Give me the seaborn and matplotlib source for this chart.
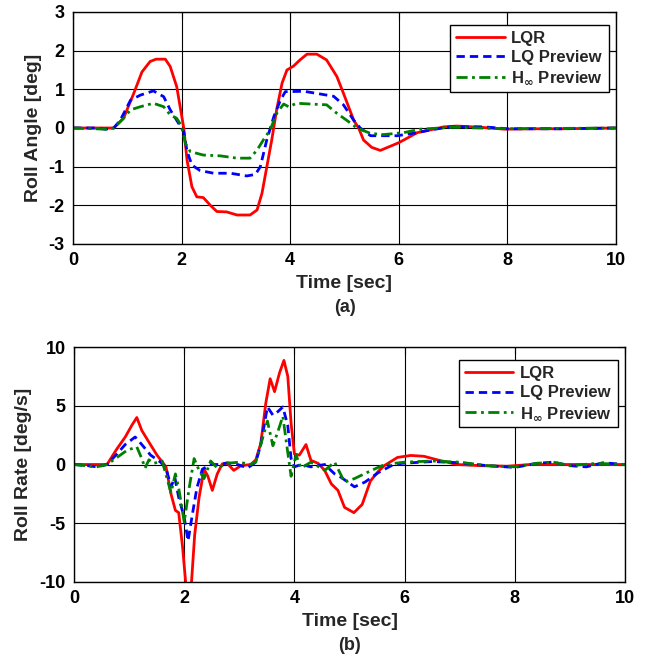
import numpy as np
import pandas as pd
import matplotlib
matplotlib.use('Agg')
import matplotlib.pyplot as plt
import seaborn as sns


# Roll angle [deg] (a)
t_angle_lqr = [0, 0.5, 0.75, 0.93, 1.12, 1.27, 1.42, 1.53, 1.7, 1.79,
               1.91, 2.04, 2.1, 2.19, 2.28, 2.4, 2.53, 2.65, 2.83, 3.02,
               3.26, 3.39, 3.48, 3.57, 3.66, 3.75, 3.85, 3.94, 4.06, 4.18,
               4.31, 4.49, 4.67, 4.86, 4.98, 5.17, 5.26, 5.35, 5.5, 5.66,
               6.0, 6.34, 6.58, 6.83, 7.07, 7.5, 7.94, 8.5, 9.0, 10]
angle_lqr = [0, 0, 0, 0.25, 0.9, 1.45, 1.72, 1.78, 1.78, 1.59,
             1.07, 0, -0.83, -1.52, -1.78, -1.8, -2.0, -2.16, -2.17, -2.25,
             -2.25, -2.12, -1.69, -1.0, -0.31, 0.47, 1.16, 1.5, 1.6, 1.76,
             1.91, 1.91, 1.76, 1.33, 0.9, 0.2, 0, -0.31, -0.5, -0.58,
             -0.38, -0.12, -0.05, 0.03, 0.05, 0.02, -0.03, -0.02, -0.02, 0]

t_angle_lqp = [0, 0.4, 0.6, 0.75, 0.87, 1.06, 1.24, 1.48, 1.67, 1.79,
               1.91, 2.04, 2.1, 2.19, 2.34, 2.59, 2.9, 3.2, 3.36, 3.45,
               3.57, 3.7, 3.82, 3.91, 4.25, 4.55, 4.8, 4.98, 5.17, 5.29,
               5.48, 5.97, 6.34, 6.58, 6.95, 7.57, 8.0, 9.0, 10]
angle_lqp = [0, 0, -0.03, 0, 0.2, 0.72, 0.85, 0.96, 0.81, 0.47,
             0.2, -0.1, -0.6, -0.96, -1.1, -1.17, -1.17, -1.24, -1.2, -1.0,
             -0.3, 0.3, 0.72, 0.94, 0.95, 0.88, 0.82, 0.6, 0.2, 0,
             -0.2, -0.2, -0.12, -0.05, 0.03, 0.03, -0.02, -0.02, 0]

t_angle_hinf = [0, 0.6, 0.75, 0.93, 1.06, 1.24, 1.48, 1.67, 1.79, 1.91,
                2.0, 2.07, 2.16, 2.4, 2.71, 3.02, 3.26, 3.39, 3.51, 3.63,
                3.76, 3.88, 3.97, 4.12, 4.37, 4.67, 4.86, 5.04, 5.23, 5.48,
                5.72, 6.09, 6.4, 7.0, 8.0, 9.0, 10]
angle_hinf = [0, -0.03, 0, 0.25, 0.47, 0.55, 0.64, 0.55, 0.34, 0.25,
              0.05, -0.4, -0.61, -0.7, -0.72, -0.78, -0.78, -0.57, -0.3, -0.05,
              0.4, 0.62, 0.55, 0.64, 0.62, 0.6, 0.38, 0.2, 0, -0.14,
              -0.17, -0.12, -0.03, 0.02, -0.02, -0.01, 0]

# Roll rate [deg/s] (b)
t_rate_lqr = [0, 0.6, 0.78, 0.93, 1.05, 1.14, 1.23, 1.36, 1.51, 1.67,
              1.76, 1.84, 1.9, 1.97, 2.03, 2.08, 2.13, 2.19, 2.27, 2.36,
              2.43, 2.51, 2.6, 2.69, 2.78, 2.9, 3.03, 3.21, 3.3, 3.39,
              3.48, 3.56, 3.64, 3.73, 3.81, 3.88, 3.94, 4.0, 4.09, 4.21,
              4.3, 4.43, 4.55, 4.67, 4.79, 4.91, 5.08, 5.23, 5.38, 5.52,
              5.63, 5.87, 6.11, 6.35, 6.59, 6.95, 7.38, 7.86, 8.28, 9.0, 10]
rate_lqr = [0, 0, 1.34, 2.34, 3.34, 4.0, 2.9, 1.9, 0.77, -0.2,
            -2.5, -3.9, -4.1, -7.0, -10.2, -11, -10.2, -6.0, -2.8, -0.4,
            -1.0, -2.2, -0.8, 0.05, 0.1, -0.5, -0.1, 0, 0.4, 1.8,
            5.2, 7.3, 6.2, 7.8, 8.86, 7.5, 3.5, 0.9, 0.8, 1.7,
            0.35, 0.1, -0.5, -1.65, -2.2, -3.65, -4.1, -3.4, -1.4, -0.6,
            -0.1, 0.6, 0.77, 0.7, 0.4, 0, -0.1, -0.15, 0, 0, 0]

t_rate_lqp = [0, 0.25, 0.41, 0.6, 0.78, 0.93, 1.11, 1.23, 1.39, 1.57,
              1.67, 1.76, 1.83, 1.9, 2.0, 2.07, 2.15, 2.23, 2.33, 2.48,
              2.66, 2.78, 2.97, 3.15, 3.3, 3.39, 3.51, 3.61, 3.7, 3.79,
              3.88, 3.94, 4.0, 4.12, 4.3, 4.55, 4.73, 4.85, 5.09, 5.28,
              5.52, 5.76, 5.95, 6.5, 7.0, 7.5, 8.0, 8.4, 8.7, 9.0,
              9.3, 9.6, 10]
rate_lqp = [0, -0.1, -0.2, 0, 0.9, 1.7, 2.34, 1.7, 0.8, 0.2,
            -0.3, -1.9, -1.1, -2.8, -4.5, -6.5, -4.2, -2.0, -0.4, 0,
            0, 0.15, 0, -0.3, 0.2, 1.7, 4.9, 4.2, 4.5, 4.9,
            3.3, 0.5, -0.2, 0, -0.2, 0, -0.8, -1.1, -1.9, -1.5,
            -0.7, -0.1, 0.1, 0.25, 0.15, -0.1, -0.25, 0.1, 0.2, -0.1,
            -0.2, 0.15, 0]

t_rate_hinf = [0, 0.41, 0.6, 0.78, 0.96, 1.14, 1.23, 1.29, 1.36, 1.45,
               1.6, 1.76, 1.84, 1.9, 2.0, 2.09, 2.18, 2.27, 2.36, 2.48,
               2.6, 2.78, 3.0, 3.2, 3.3, 3.39, 3.51, 3.61, 3.7, 3.79,
               3.88, 3.94, 4.03, 4.12, 4.3, 4.55, 4.73, 4.91, 5.09, 5.4,
               5.64, 6.0, 6.5, 7.0, 7.5, 8.0, 8.4, 8.7, 9.0, 9.5, 10]
rate_hinf = [0, -0.2, 0, 0.6, 1.2, 1.5, 0.5, -0.3, 0.4, 0.1,
             0.3, -2.4, -0.8, -2.0, -4.9, -2.0, 0.5, -0.5, -1.2, 0.3,
             -0.3, 0.1, 0.2, 0, 0.2, 1.7, 3.7, 1.6, 2.8, 4.1,
             1.0, -1.0, 0.8, -0.3, 0.2, -0.5, 0.2, -1.5, -1.2, -0.5,
             0, 0.2, 0.3, 0.2, -0.1, -0.2, 0.1, 0.2, -0.1, 0.1, 0]

labels = ['LQR', 'LQ Preview', r'H$_\infty$ Preview']
colors = ['#ff0000', '#0000ff', '#008000']
styles = ['-', (0, (3, 1.8)), (0, (4, 1.6, 1, 1.6))]


sns.set_style('white')
plt.rcParams['font.family'] = ['Liberation Sans', 'DejaVu Sans']
plt.rcParams['font.weight'] = 'bold'
plt.rcParams['mathtext.default'] = 'bf'
plt.rcParams['axes.unicode_minus'] = False

fig = plt.figure(figsize=(6.49, 6.62), dpi=100)
ax1 = fig.add_axes([73/649, 1-244/662, 543/649, 232/662])
ax2 = fig.add_axes([74/649, 1-582/662, 551/649, 235/662])

panels = [
    (ax1, [(t_angle_lqr, angle_lqr), (t_angle_lqp, angle_lqp), (t_angle_hinf, angle_hinf)],
     'Roll Angle [deg]', (-3, 3), np.arange(-3, 4, 1), '(a)', 1-308/662),
    (ax2, [(t_rate_lqr, rate_lqr), (t_rate_lqp, rate_lqp), (t_rate_hinf, rate_hinf)],
     'Roll Rate [deg/s]', (-10, 10), np.arange(-10, 11, 5), '(b)', 1-645/662),
]

for ax, series, ylab, ylim, yticks, tag, tag_y in panels:
    for (t, v), lab, c, ls in zip(series, labels, colors, styles):
        df = pd.DataFrame({'t': t, 'v': v})
        sns.lineplot(data=df, x='t', y='v', ax=ax, color=c, linestyle=ls,
                     linewidth=2, label=lab)
    ax.set_xlim(0, 10)
    ax.set_ylim(*ylim)
    ax.set_xticks(np.arange(0, 11, 2))
    ax.set_yticks(yticks)
    ax.grid(True, color='black', linewidth=0.8, linestyle='-')
    for s in ax.spines.values():
        s.set_color('black')
        s.set_linewidth(1.0)
    ax.tick_params(direction='in', length=5, width=0.8, top=True, right=True,
                   labelsize=13, pad=6, colors='black')
    for lbl in ax.get_xticklabels() + ax.get_yticklabels():
        lbl.set_fontweight('bold')
    ax.set_xlabel('Time [sec]', fontsize=14, fontweight='bold', labelpad=4)
    ax.set_ylabel(ylab, fontsize=14, fontweight='bold', labelpad=5)
    leg = ax.legend(loc='upper right', bbox_to_anchor=(0.987, 0.943),
                    fontsize=12, frameon=True, fancybox=False,
                    handlelength=2.9, borderpad=0.35, labelspacing=0.25,
                    handletextpad=0.4, borderaxespad=0)
    leg.get_frame().set_edgecolor('black')
    leg.get_frame().set_linewidth(1.0)
    leg.get_frame().set_alpha(1)
    for txt in leg.get_texts():
        txt.set_fontweight('bold')
    fig.text((ax.get_position().x0 + ax.get_position().x1) / 2, tag_y, tag,
             ha='center', va='center', fontsize=13, fontweight='bold')

fig.savefig('out.png', dpi=100)
